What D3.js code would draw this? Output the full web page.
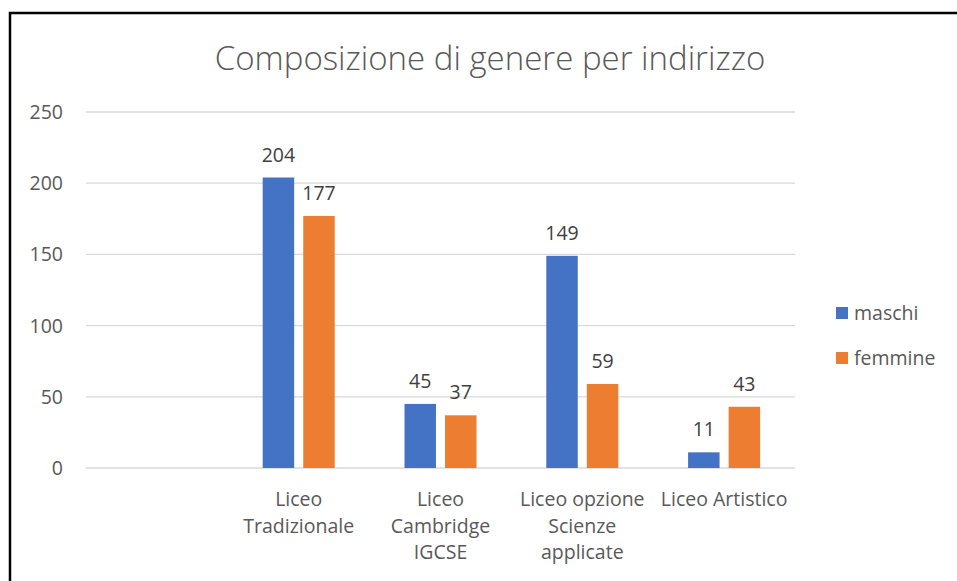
<!DOCTYPE html>
<html>
<head>
<meta charset="utf-8">
<script src="https://cdn.jsdelivr.net/npm/d3@7"></script>
<style>
  body { margin: 0; background: #fff; }
  text { font-family: "Open Sans", "Noto Sans", sans-serif; }
</style>
</head>
<body>
<div id="chart"></div>
<script>
// data
var categories = ["", "Liceo Tradizionale", "Liceo Cambridge IGCSE", "Liceo opzione Scienze applicate", "Liceo Artistico"];
var categoryLines = [[], ["Liceo", "Tradizionale"], ["Liceo", "Cambridge", "IGCSE"], ["Liceo opzione", "Scienze", "applicate"], ["Liceo Artistico"]];
var maschi = [null, 204, 45, 149, 11];
var femmine = [null, 177, 37, 59, 43];
var seriesNames = ["maschi", "femmine"];
var seriesColors = ["#4472C4", "#ED7D31"];
var yTicks = [0, 50, 100, 150, 200, 250];

var width = 957, height = 581;

var svg = d3.select("#chart")
  .append("svg")
  .attr("width", width)
  .attr("height", height);

// outer border
svg.append("rect")
  .attr("x", 10)
  .attr("y", 13)
  .attr("width", 1000)
  .attr("height", 1000)
  .attr("fill", "none")
  .attr("stroke", "#000")
  .attr("stroke-width", 2.5);

svg.append("text")
  .attr("x", 490)
  .attr("y", 70)
  .attr("text-anchor", "middle")
  .attr("fill", "#595959")
  .style("font-size", "33px")
  .style("font-weight", 300)
  .text("Composizione di genere per indirizzo");

var x = d3.scaleBand()
  .domain(categories)
  .range([86, 795]);

var y = d3.scaleLinear()
  .domain([0, 250])
  .range([468, 112]);

// gridlines
svg.append("g")
  .selectAll("line")
  .data(yTicks)
  .enter()
  .append("line")
  .attr("x1", 86)
  .attr("x2", 795)
  .attr("y1", function(d) { return y(d); })
  .attr("y2", function(d) { return y(d); })
  .attr("stroke", "#d9d9d9")
  .attr("stroke-width", 1.3);

// y tick labels
svg.append("g")
  .selectAll("text")
  .data(yTicks)
  .enter()
  .append("text")
  .attr("x", 63)
  .attr("y", function(d) { return y(d) + 7; })
  .attr("text-anchor", "end")
  .attr("fill", "#595959")
  .style("font-size", "19.5px")
  .text(function(d) { return d; });

var barW = x.bandwidth() * 0.222;
var gap = x.bandwidth() * 0.064;

var series = [maschi, femmine];
series.forEach(function(vals, s) {
  var offset = s === 0 ? -gap / 2 - barW : gap / 2;
  var rows = categories.map(function(c, i) { return { c: c, v: vals[i] }; })
    .filter(function(d) { return d.v != null; });

  svg.append("g")
    .selectAll("rect")
    .data(rows)
    .enter()
    .append("rect")
    .attr("x", function(d) { return x(d.c) + x.bandwidth() / 2 + offset; })
    .attr("y", function(d) { return y(d.v); })
    .attr("width", barW)
    .attr("height", function(d) { return y(0) - y(d.v); })
    .attr("fill", seriesColors[s]);

  svg.append("g")
    .selectAll("text")
    .data(rows)
    .enter()
    .append("text")
    .attr("x", function(d) { return x(d.c) + x.bandwidth() / 2 + offset + barW / 2; })
    .attr("y", function(d) { return y(d.v) - 16; })
    .attr("text-anchor", "middle")
    .attr("fill", "#404040")
    .style("font-size", "19.5px")
    .text(function(d) { return d.v; });
});

// category labels
categories.forEach(function(c, i) {
  var t = svg.append("text")
    .attr("text-anchor", "middle")
    .attr("fill", "#595959")
    .style("font-size", "19.5px");
  categoryLines[i].forEach(function(line, k) {
    t.append("tspan")
      .attr("x", x(c) + x.bandwidth() / 2)
      .attr("y", 506 + k * 26.5)
      .text(line);
  });
});

// legend
var legend = svg.append("g");
seriesNames.forEach(function(name, i) {
  legend.append("rect")
    .attr("x", 836)
    .attr("y", 307 + i * 45)
    .attr("width", 12)
    .attr("height", 12)
    .attr("fill", seriesColors[i]);
  legend.append("text")
    .attr("x", 854)
    .attr("y", 320 + i * 45)
    .attr("fill", "#595959")
    .style("font-size", "19.5px")
    .text(name);
});
</script>
</body>
</html>
